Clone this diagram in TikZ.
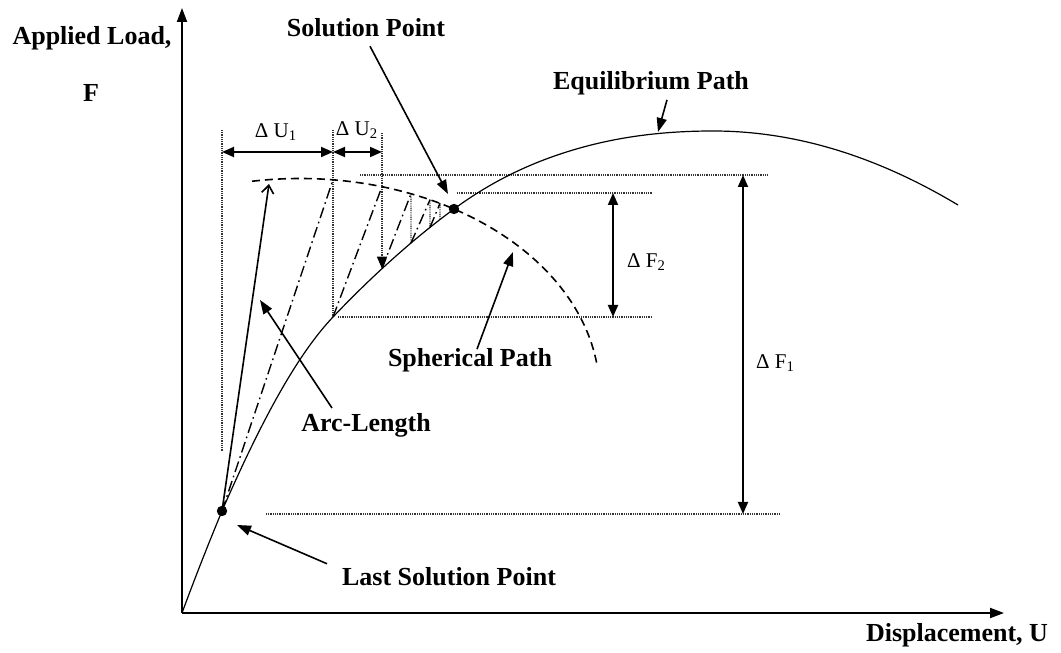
\documentclass[tikz,border=0pt]{standalone}
\usepackage{fontspec}
\setmainfont{Liberation Serif}
\usetikzlibrary{arrows.meta,calc}

\begin{document}
\begin{tikzpicture}[x=0.5pt,y=0.5pt,
    lbl/.style={font=\fontsize{13}{15}\selectfont\bfseries},
    dimlbl/.style={font=\fontsize{10.5}{12}\selectfont},
    axisline/.style={line width=1pt,-{Triangle[length=7pt,width=5pt]}},
    pointer/.style={line width=0.8pt,-{Triangle[length=7pt,width=5pt]}},
    dimarrow/.style={line width=0.9pt,{Triangle[length=6pt,width=5pt]}-{Triangle[length=6pt,width=5pt]}},
    guide/.style={line width=0.65pt,black!80,dash pattern=on 0.45pt off 0.45pt},
    iter/.style={line width=0.7pt,dash pattern=on 5.5pt off 2pt on 0.8pt off 2pt},
    sphere/.style={line width=0.8pt,dash pattern=on 4pt off 2.5pt}]
  \useasboundingbox (0,0) rectangle (1061,653);
  % axes
  \coordinate (O) at (182,40);
  \coordinate (ytop) at (182,645);
  \coordinate (xend) at (1004,40);
  \draw[axisline] (O) -- (ytop);
  \draw[axisline] (O) -- (xend);
  \node[lbl] (loadlbl) at (92,615) {Applied Load,};
  \node[lbl] (flbl) at (91,560) {F};
  \node[lbl] (displbl) at (957,18) {Displacement, U};
  % points on the equilibrium path
  \coordinate (p0) at (222,142);
  \coordinate (q1) at (333,336);
  \coordinate (q2) at (382,384.3);
  \coordinate (q3) at (411,410);
  \coordinate (q4) at (430,425.6);
  \coordinate (q5) at (440,433.5);
  \coordinate (sol) at (454,444);
  \coordinate (rise) at (573,503);
  \coordinate (peak) at (713,522);
  \coordinate (pend) at (958,448);
  % spherical path (centre and points on it)
  \coordinate (ctr) at (300,260.1);
  \coordinate (a1) at ($(ctr)+(83.68:299.6 and 214.4)$);
  \coordinate (a2) at ($(ctr)+(74.12:299.6 and 214.4)$);
  \coordinate (a3) at ($(ctr)+(68.25:299.6 and 214.4)$);
  \coordinate (a4) at ($(ctr)+(64.28:299.6 and 214.4)$);
  \coordinate (a5) at ($(ctr)+(62.14:299.6 and 214.4)$);
  % guide lines
  \coordinate (u0) at (222,523);
  \coordinate (u1) at (333,523);
  \coordinate (u2) at (382,520);
  \draw[guide] (u0) -- (222,201);
  \draw[guide] (u1) -- (q1);
  \draw[guide,-{Triangle[length=6pt,width=5pt,color=black]}] (u2) -- (q2);
  \draw[guide] (a3) -- (q3);
  \draw[guide] (a4) -- (q4);
  \draw[guide] (a5) -- (q5);
  \draw[guide] (360,478) -- (767,478);
  \draw[guide] (457,460) -- (652,460);
  \draw[guide] ($(q1)+(5,0)$) -- (652,336);
  \draw[guide] (266,139) -- (780,139);
  % iterations
  \draw[iter] (p0) -- (a1);
  \draw[iter] (q1) -- (a2);
  \draw[iter] (q2) -- (a3);
  \draw[iter] (q3) -- (a4);
  \draw[iter] (q4) -- (a5);
  \draw[line width=0.8pt,-{Straight Barb[length=4pt,width=6pt]}] (p0) -- (269,469);
  % equilibrium path and spherical path
  \draw[line width=0.6pt] (O) .. controls (195.3,76) and (208.7,110) .. (p0)
    .. controls (259,227.1) and (296,297.2) .. (q1)
    .. controls (373.3,378.3) and (413.7,414.4) .. (sol)
    .. controls (493.7,473.2) and (533.3,491.1) .. (rise)
    .. controls (619.7,517) and (666.3,522) .. (peak)
    .. controls (794.7,522) and (876.3,497) .. (pend);
  \draw[sphere] ($(ctr)+(99.22:299.6 and 214.4)$) arc[start angle=99.22, end angle=7.56, x radius=299.6, y radius=214.4];
  \fill (p0) circle (2.6pt);
  \fill (sol) circle (2.6pt);
  % increments
  \draw[dimarrow] (222,501) -- (333,501);
  \draw[dimarrow] (333,501) -- (382,501);
  \draw[dimarrow] (613,460) -- (613,336);
  \draw[dimarrow] (743,478) -- (743,139);
  \node[dimlbl] (du1) at (276,521) {Δ U\textsubscript{1}};
  \node[dimlbl] (du2) at (357,523) {Δ U\textsubscript{2}};
  \node[dimlbl,anchor=west] (df2) at (620,391) {Δ F\textsubscript{2}};
  \node[dimlbl,anchor=west] (df1) at (749,290) {Δ F\textsubscript{1}};
  % labels with pointers
  \node[lbl] (sollbl) at (366,625) {Solution Point};
  \node[lbl] (eqlbl) at (651,570) {Equilibrium Path};
  \node[lbl] (sphlbl) at (470,293) {Spherical Path};
  \node[lbl] (arclbl) at (366,228) {Arc-Length};
  \node[lbl] (lastlbl) at (449,76) {Last Solution Point};
  \draw[pointer] ([xshift=2pt,yshift=-1pt]sollbl.south) -- (448,459);
  \draw[pointer] ([xshift=8pt,yshift=1pt]eqlbl.south) -- (658,521);
  \draw[pointer] ([xshift=3.5pt,yshift=-4pt]sphlbl.north) -- (513,401);
  \draw[pointer] ([xshift=-17pt,yshift=-1pt]arclbl.north) -- (260,353);
  \draw[pointer] ([xshift=-61pt,yshift=-1.5pt]lastlbl.north) -- (237,128);
\end{tikzpicture}
\end{document}
